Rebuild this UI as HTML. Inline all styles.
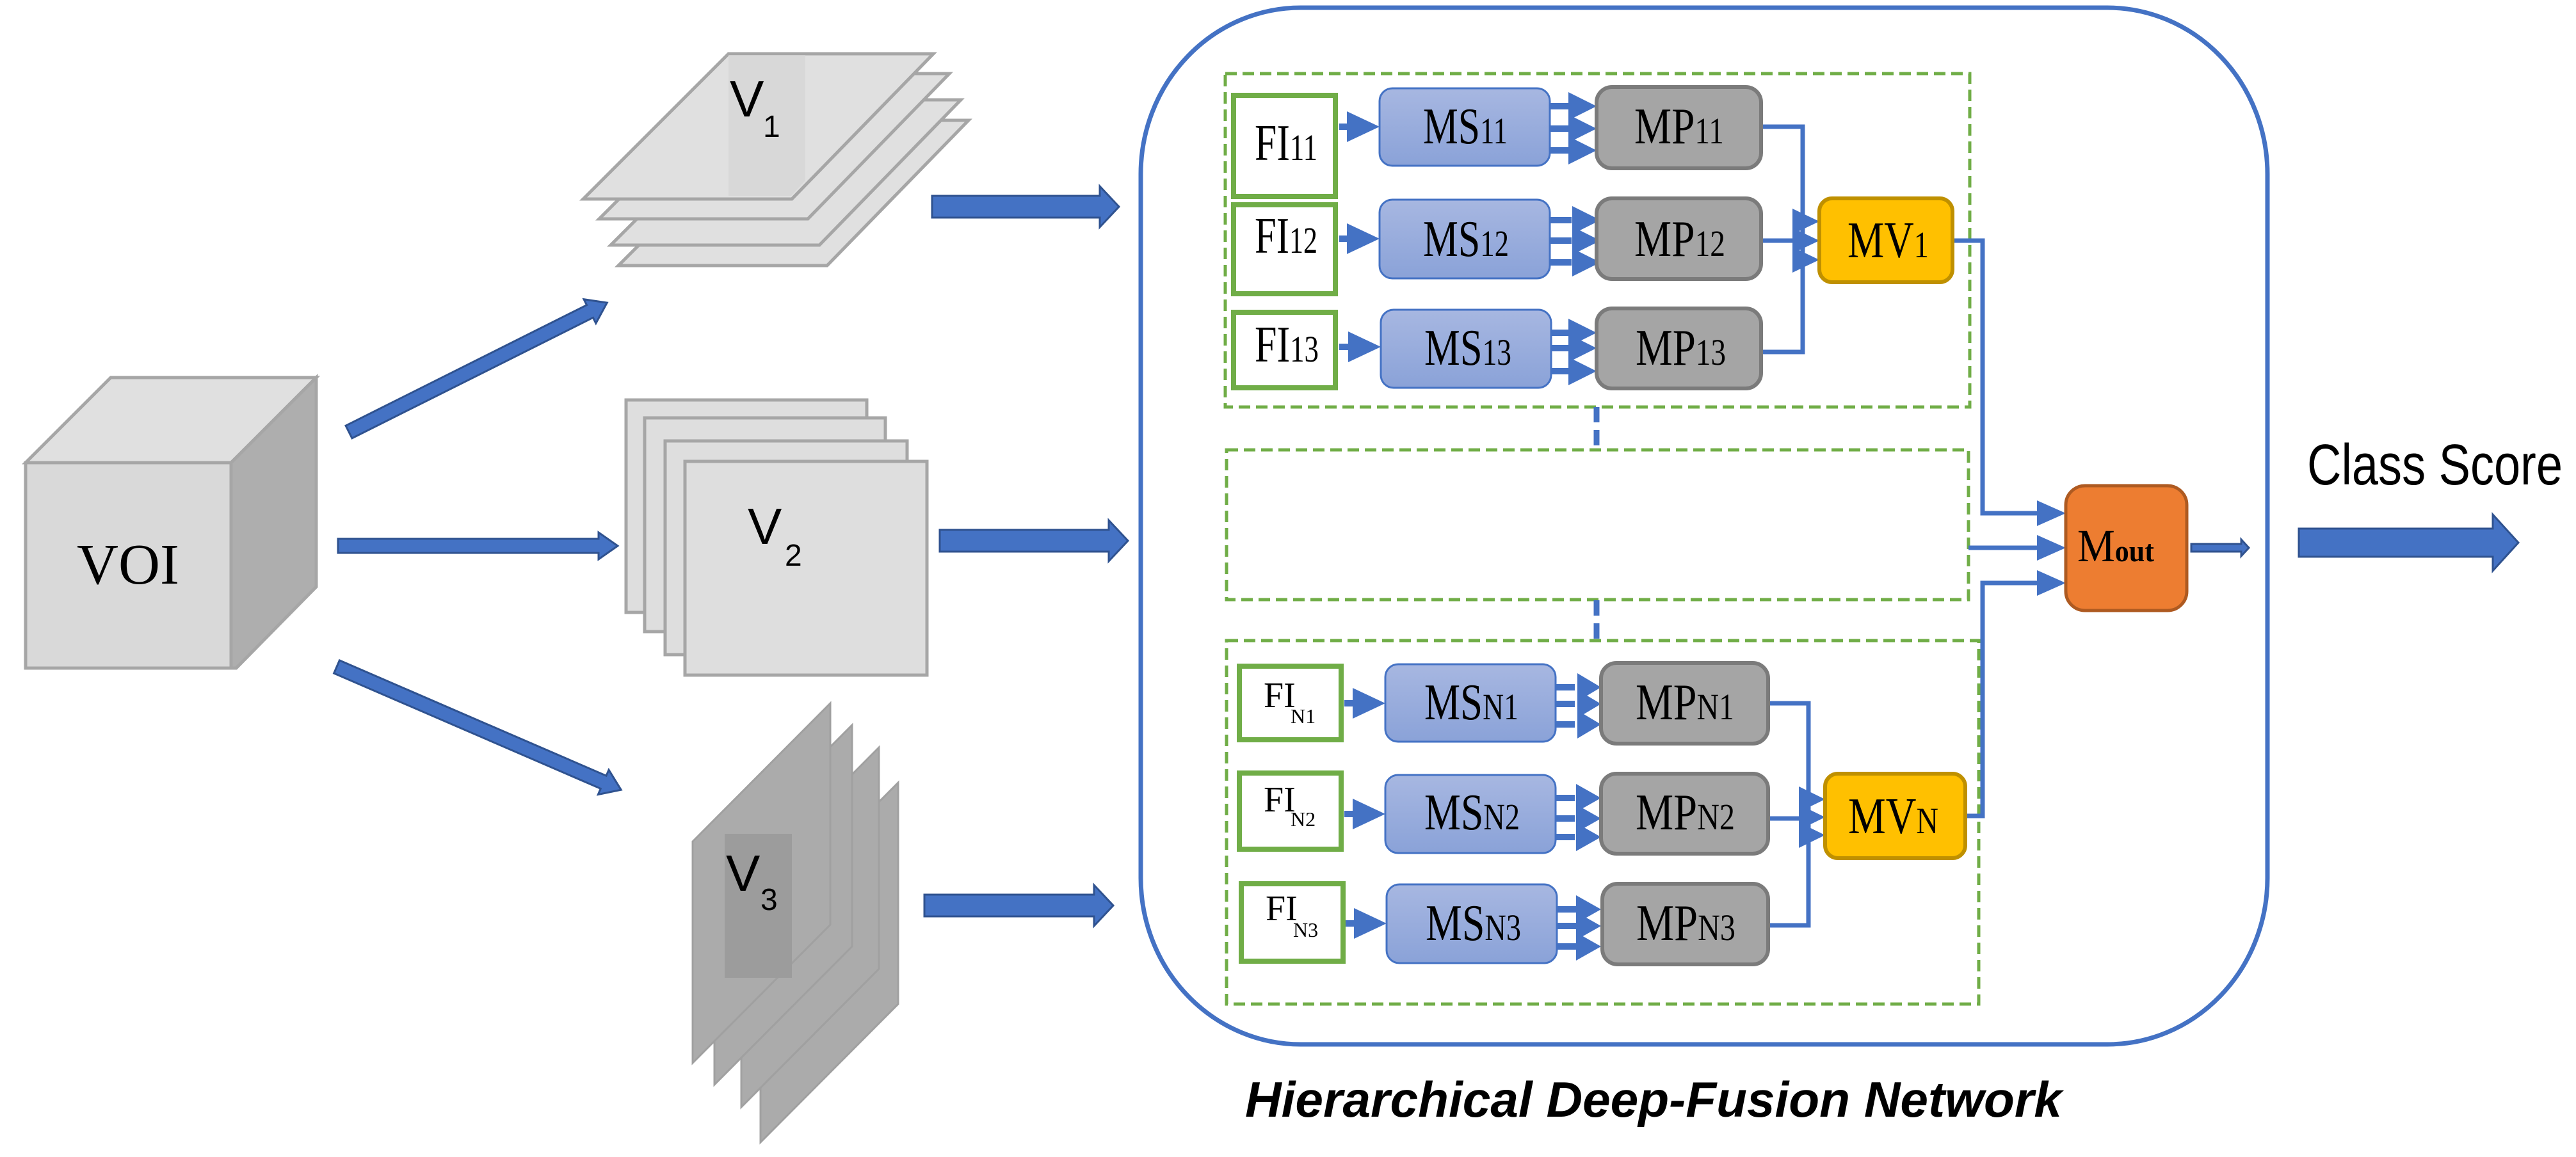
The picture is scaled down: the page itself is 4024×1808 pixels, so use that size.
<!DOCTYPE html>
<html><head><meta charset="utf-8"><style>
html,body{margin:0;padding:0;background:#fff;}
svg{display:block;}
.sr{font-family:"Liberation Serif",serif;fill:#000;}
.ss{font-family:"Liberation Sans",sans-serif;fill:#000;}
</style></head><body>
<svg width="4024" height="1808" viewBox="0 0 4024 1808" xmlns="http://www.w3.org/2000/svg">
<defs>
<linearGradient id="ms" x1="0" y1="0" x2="0" y2="1"><stop offset="0" stop-color="#a7b7e1"/><stop offset="1" stop-color="#8aa2d8"/></linearGradient>
</defs>

<!-- VOI cube -->
<polygon points="40,723 173,590 494,590 361,723" fill="#e0e0e0" stroke="#a6a6a6" stroke-width="5"/>
<polygon points="361,723 494,590 494,917 369,1044 361,1044" fill="#aeaeae" stroke="#a6a6a6" stroke-width="5"/>
<rect x="40" y="723" width="321" height="321" fill="#d9d9d9" stroke="#a6a6a6" stroke-width="5"/>
<text x="200" y="912" class="sr" font-size="90" text-anchor="middle">VOI</text>

<!-- V1 stack -->
<g fill="#e0e0e0" stroke="#a6a6a6" stroke-width="5">
<polygon points="966,415 1193,188 1513,188 1292,415"/>
<polygon points="954,383 1181,156 1501,156 1280,383"/>
<polygon points="936,342 1163,115 1483,115 1262,342"/>
<polygon points="911,311 1138,84 1458,84 1237,311"/>
</g>
<polygon points="1138,86 1258,86 1258,282 1236,306 1138,306" fill="#d4d4d4" opacity="0.7"/>
<text x="1140" y="182" class="ss" font-size="80">V</text>
<text x="1192" y="214" class="ss" font-size="48">1</text>

<!-- V2 stack -->
<g fill="#dedede" stroke="#a6a6a6" stroke-width="5">
<rect x="978" y="625" width="376" height="332"/>
<rect x="1007" y="653" width="376" height="334"/>
<rect x="1039" y="689" width="378" height="334"/>
<rect x="1070" y="721" width="378" height="334"/>
</g>
<text x="1168" y="850" class="ss" font-size="80">V</text>
<text x="1226" y="884" class="ss" font-size="48">2</text>

<!-- V3 stack -->
<g fill="#ababab" stroke="#a0a0a0" stroke-width="3">
<polygon points="1188,1439 1403,1223 1403,1569 1188,1785"/>
<polygon points="1158,1384 1373,1168 1373,1514 1158,1730"/>
<polygon points="1116,1349 1331,1133 1331,1479 1116,1695"/>
<polygon points="1082,1315 1297,1099 1297,1445 1082,1661"/>
</g>
<rect x="1132" y="1303" width="105" height="225" fill="#9c9c9c"/>
<text x="1134" y="1392" class="ss" font-size="80">V</text>
<text x="1188" y="1422" class="ss" font-size="48">3</text>

<!-- block arrows -->
<g fill="#4472c4" stroke="#2f528f" stroke-width="3">
<g transform="translate(545,675) rotate(-26.6)"><polygon points="0,-11 421,-11 421,-21 451,0 421,21 421,11 0,11"/></g>
<g transform="translate(528,853)"><polygon points="0,-11 407,-11 407,-21 437,0 407,21 407,11 0,11"/></g>
<g transform="translate(526,1042) rotate(23.4)"><polygon points="0,-11 454,-11 454,-21 484,0 454,21 454,11 0,11"/></g>
<g transform="translate(1456,323)"><polygon points="0,-17 262,-17 262,-32 292,0 262,32 262,17 0,17"/></g>
<g transform="translate(1468,845)"><polygon points="0,-17 264,-17 264,-32 294,0 264,32 264,17 0,17"/></g>
<g transform="translate(1444,1415)"><polygon points="0,-17 265,-17 265,-32 295,0 265,32 265,17 0,17"/></g>
<g transform="translate(3591,848)"><polygon points="0,-22 303,-22 303,-44 343,0 303,44 303,22 0,22"/></g>
<g transform="translate(3423,856)"><polygon points="0,-6 78,-6 78,-13 90,0 78,13 78,6 0,6"/></g>
</g>

<!-- big rounded box -->
<rect x="1782" y="12" width="1760" height="1620" rx="250" ry="260" fill="none" stroke="#4472c4" stroke-width="7"/>

<!-- dashed groups -->
<g fill="none" stroke="#70ad47" stroke-width="5" stroke-dasharray="18,9">
<rect x="1914" y="115" width="1163" height="521"/>
<rect x="1916" y="703" width="1159" height="234"/>
<rect x="1916" y="1001" width="1175" height="568"/>
</g>
<g stroke="#4472c4" stroke-width="9" stroke-dasharray="24,12">
<line x1="2494" y1="636" x2="2494" y2="703"/>
<line x1="2494" y1="938" x2="2494" y2="1001"/>
</g>

<!-- connectors -->
<g fill="none" stroke="#4472c4" stroke-width="7">
<polyline points="2751,198 2816,198 2816,430"/>
<polyline points="2751,550 2816,550 2816,330"/>
<line x1="2751" y1="376" x2="2800" y2="376"/>
<polyline points="3050,376 3097,376 3097,802 3182,802"/>
<line x1="3075" y1="856" x2="3182" y2="856"/>
<polyline points="3070,1275 3097,1275 3097,911 3182,911"/>
<polyline points="2762,1099 2825,1099 2825,1320"/>
<polyline points="2762,1446 2825,1446 2825,1240"/>
<line x1="2762" y1="1279" x2="2810" y2="1279"/>
</g>
<g stroke="#4472c4" stroke-width="10">
<line x1="2092" y1="198" x2="2110" y2="198"/><line x1="2092" y1="373" x2="2110" y2="373"/><line x1="2092" y1="542" x2="2110" y2="542"/>
<line x1="2100" y1="1099" x2="2120" y2="1099"/><line x1="2100" y1="1272" x2="2120" y2="1272"/><line x1="2102" y1="1443" x2="2122" y2="1443"/>
<line x1="2421" y1="166" x2="2455" y2="166"/><line x1="2421" y1="201" x2="2455" y2="201"/><line x1="2421" y1="235" x2="2455" y2="235"/>
<line x1="2421" y1="344" x2="2455" y2="344"/><line x1="2421" y1="376" x2="2455" y2="376"/><line x1="2421" y1="410" x2="2455" y2="410"/>
<line x1="2421" y1="520" x2="2455" y2="520"/><line x1="2421" y1="544" x2="2455" y2="544"/><line x1="2421" y1="580" x2="2455" y2="580"/>
<line x1="2430" y1="1074" x2="2460" y2="1074"/><line x1="2430" y1="1100" x2="2460" y2="1100"/><line x1="2430" y1="1132" x2="2460" y2="1132"/>
<line x1="2430" y1="1247" x2="2460" y2="1247"/><line x1="2430" y1="1279" x2="2460" y2="1279"/><line x1="2430" y1="1308" x2="2460" y2="1308"/>
<line x1="2432" y1="1421" x2="2462" y2="1421"/><line x1="2432" y1="1447" x2="2462" y2="1447"/><line x1="2432" y1="1479" x2="2462" y2="1479"/>
</g>
<g fill="#4472c4">
<polygon points="2155,198 2104,174 2104,222"/><polygon points="2155,373 2104,349 2104,397"/><polygon points="2157,542 2106,518 2106,566"/>
<polygon points="2164,1099 2113,1075 2113,1123"/><polygon points="2164,1272 2113,1248 2113,1296"/><polygon points="2166,1443 2115,1419 2115,1467"/>
<polygon points="2494,166 2450,144 2450,188"/><polygon points="2494,201 2450,179 2450,223"/><polygon points="2494,235 2450,213 2450,257"/>
<polygon points="2500,344 2456,322 2456,366"/><polygon points="2500,376 2456,354 2456,398"/><polygon points="2500,410 2456,388 2456,432"/>
<polygon points="2494,520 2450,498 2450,542"/><polygon points="2494,544 2450,522 2450,566"/><polygon points="2494,580 2450,558 2450,602"/>
<polygon points="2501,1074 2464,1052 2464,1096"/><polygon points="2501,1100 2464,1078 2464,1122"/><polygon points="2501,1132 2464,1110 2464,1154"/>
<polygon points="2501,1247 2462,1225 2462,1269"/><polygon points="2501,1279 2462,1257 2462,1301"/><polygon points="2501,1308 2462,1286 2462,1330"/>
<polygon points="2501,1421 2462,1399 2462,1443"/><polygon points="2501,1447 2462,1425 2462,1469"/><polygon points="2501,1479 2462,1457 2462,1501"/>
<polygon points="2842,346 2800,326 2800,366"/><polygon points="2842,376 2800,356 2800,396"/><polygon points="2842,406 2800,386 2800,426"/>
<polygon points="2851,1249 2810,1229 2810,1269"/><polygon points="2851,1277 2810,1257 2810,1297"/><polygon points="2851,1305 2810,1285 2810,1325"/>
<polygon points="3227,802 3182,782 3182,822"/><polygon points="3227,856 3182,836 3182,876"/><polygon points="3227,911 3182,891 3182,931"/>
</g>

<!-- boxes -->
<g fill="#fff" stroke="#70ad47" stroke-width="8">
<rect x="1927" y="149" width="159" height="158"/>
<rect x="1927" y="320" width="159" height="139"/>
<rect x="1927" y="488" width="159" height="118"/>
<rect x="1936" y="1041" width="159" height="115"/>
<rect x="1936" y="1208" width="159" height="119"/>
<rect x="1939" y="1381" width="159" height="121"/>
</g>
<g fill="url(#ms)" stroke="#4472c4" stroke-width="3">
<rect x="2155" y="138" width="266" height="121" rx="20"/>
<rect x="2155" y="312" width="266" height="123" rx="20"/>
<rect x="2157" y="484" width="266" height="122" rx="20"/>
<rect x="2164" y="1038" width="266" height="121" rx="20"/>
<rect x="2164" y="1211" width="266" height="122" rx="20"/>
<rect x="2166" y="1382" width="266" height="123" rx="20"/>
</g>
<g fill="#a5a5a5" stroke="#7b7b7b" stroke-width="6">
<rect x="2494" y="136" width="257" height="127" rx="24"/>
<rect x="2494" y="310" width="257" height="126" rx="24"/>
<rect x="2494" y="482" width="257" height="125" rx="24"/>
<rect x="2501" y="1036" width="261" height="126" rx="24"/>
<rect x="2501" y="1209" width="261" height="125" rx="24"/>
<rect x="2503" y="1381" width="259" height="126" rx="24"/>
</g>
<g fill="#ffc000" stroke="#bf9000" stroke-width="6">
<rect x="2842" y="310" width="208" height="131" rx="20"/>
<rect x="2851" y="1209" width="219" height="132" rx="20"/>
</g>
<rect x="3227" y="759" width="189" height="195" rx="30" fill="#ed7d31" stroke="#ae5a21" stroke-width="5"/>

<!-- labels -->
<g class="sr" font-size="80" lengthAdjust="spacingAndGlyphs">
<text x="1960" y="250" textLength="98" lengthAdjust="spacingAndGlyphs">FI<tspan font-size="58">11</tspan></text>
<text x="1960" y="395" textLength="98" lengthAdjust="spacingAndGlyphs">FI<tspan font-size="58">12</tspan></text>
<text x="1960" y="565" textLength="100" lengthAdjust="spacingAndGlyphs">FI<tspan font-size="58">13</tspan></text>
<text x="2223" y="224" textLength="132" lengthAdjust="spacingAndGlyphs">MS<tspan font-size="58">11</tspan></text>
<text x="2223" y="400" textLength="134" lengthAdjust="spacingAndGlyphs">MS<tspan font-size="58">12</tspan></text>
<text x="2225" y="570" textLength="136" lengthAdjust="spacingAndGlyphs">MS<tspan font-size="58">13</tspan></text>
<text x="2553" y="224" textLength="140" lengthAdjust="spacingAndGlyphs">MP<tspan font-size="58">11</tspan></text>
<text x="2553" y="400" textLength="142" lengthAdjust="spacingAndGlyphs">MP<tspan font-size="58">12</tspan></text>
<text x="2555" y="570" textLength="141" lengthAdjust="spacingAndGlyphs">MP<tspan font-size="58">13</tspan></text>
<text x="2886" y="402" textLength="127" lengthAdjust="spacingAndGlyphs">MV<tspan font-size="58">1</tspan></text>
<text x="2225" y="1124" textLength="147" lengthAdjust="spacingAndGlyphs">MS<tspan font-size="58">N1</tspan></text>
<text x="2225" y="1296" textLength="149" lengthAdjust="spacingAndGlyphs">MS<tspan font-size="58">N2</tspan></text>
<text x="2227" y="1469" textLength="149" lengthAdjust="spacingAndGlyphs">MS<tspan font-size="58">N3</tspan></text>
<text x="2555" y="1124" textLength="154" lengthAdjust="spacingAndGlyphs">MP<tspan font-size="58">N1</tspan></text>
<text x="2555" y="1296" textLength="155" lengthAdjust="spacingAndGlyphs">MP<tspan font-size="58">N2</tspan></text>
<text x="2556" y="1469" textLength="155" lengthAdjust="spacingAndGlyphs">MP<tspan font-size="58">N3</tspan></text>
<text x="2887" y="1302" textLength="141" lengthAdjust="spacingAndGlyphs">MV<tspan font-size="58">N</tspan></text>
</g>
<g class="sr">
<text x="1974" y="1105" font-size="56">FI</text><text x="2016" y="1130" font-size="32">N1</text>
<text x="1974" y="1268" font-size="56">FI</text><text x="2016" y="1291" font-size="32">N2</text>
<text x="1977" y="1438" font-size="56">FI</text><text x="2020" y="1464" font-size="32">N3</text>
<text x="3245" y="877" font-size="72" textLength="120" lengthAdjust="spacingAndGlyphs">M<tspan font-size="48" font-weight="bold">out</tspan></text>
</g>
<text x="3604" y="757" class="ss" font-size="90" textLength="399" lengthAdjust="spacingAndGlyphs">Class Score</text>
<text x="1945" y="1745" class="ss" font-size="78" font-weight="bold" font-style="italic" textLength="1276" lengthAdjust="spacingAndGlyphs">Hierarchical Deep-Fusion Network</text>
</svg>
</body></html>
